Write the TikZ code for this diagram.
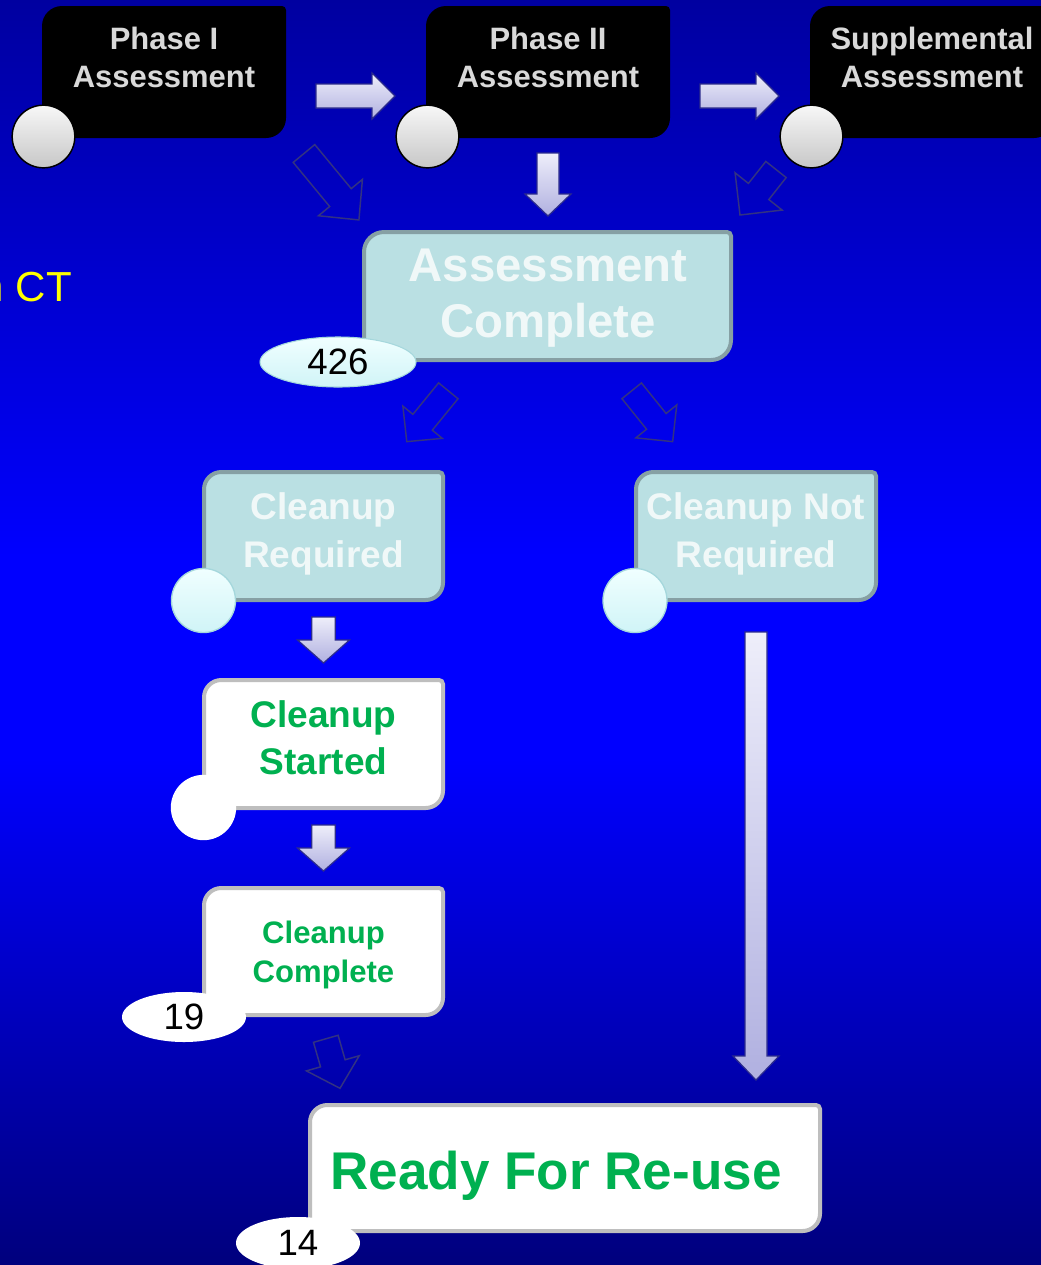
\documentclass[tikz,border=0pt]{standalone}
\usepackage{fontspec}
\setmainfont{Liberation Sans}
\usetikzlibrary{shapes.geometric,calc,fit}

\definecolor{bgtop}{RGB}{0,0,160}
\definecolor{bgmid}{RGB}{0,0,255}
\definecolor{bgbot}{RGB}{0,0,125}
\definecolor{phasegray}{RGB}{217,217,217}
\definecolor{tealfill}{RGB}{186,224,227}
\definecolor{tealedge}{RGB}{134,160,164}
\definecolor{tealtext}{RGB}{240,248,248}
\definecolor{stagegreen}{RGB}{0,176,80}
\definecolor{grayedge}{RGB}{190,190,190}
\definecolor{arrtop}{RGB}{238,238,250}
\definecolor{arrbot}{RGB}{176,176,224}
\definecolor{arredge}{RGB}{44,44,140}
\definecolor{holedge}{RGB}{50,50,130}
\definecolor{cyantop}{RGB}{240,255,255}
\definecolor{cyanbot}{RGB}{208,244,247}
\definecolor{cyanedge}{RGB}{165,215,220}
\definecolor{ctyellow}{RGB}{255,255,0}

\pgfdeclareverticalshading{bgshade}{100bp}{color(0bp)=(bgbot); color(25bp)=(bgbot); color(45bp)=(bgmid); color(53bp)=(bgmid); color(75bp)=(bgtop); color(100bp)=(bgtop)}

\newcommand\stagebox[5]{%
  \node[fit={#3 #4}, inner sep=0pt, outer sep=0pt] (#1) {};
  \path[#2] (#1.south west) -- ([yshift=-#5]#1.north west)
    arc[start angle=180,end angle=90,radius=#5] -- ([xshift=-3pt]#1.north east)
    arc[start angle=90,end angle=0,radius=3pt] -- ([yshift=#5]#1.south east)
    arc[start angle=0,end angle=-90,radius=#5] -- cycle;
}

\newcommand\blockarrow[6]{%
  \path[#1] let \p1=($(#3)-(#2)$), \n1={atan2(\y1,\x1)}, \n2={veclen(\x1,\y1)} in
    [shift={(#2)}, rotate=\n1] (0pt,-#4) -- (\n2-#6,-#4) -- (\n2-#6,-#5) -- (\n2,0pt)
    -- (\n2-#6,#5) -- (\n2-#6,#4) -- (0pt,#4) -- cycle;
}

\tikzset{
  phasebox/.style={fill=black},
  tealbox/.style={fill=tealfill, draw=tealedge, line width=3pt},
  whitebox/.style={fill=white, draw=grayedge, line width=3pt},
  phasetxt/.style={font=\bfseries\fontsize{23.2}{28.5}\selectfont, text=phasegray, align=center, inner sep=0pt},
  bigtxt/.style={font=\bfseries\fontsize{35.5}{42}\selectfont, text=tealtext, align=center, inner sep=0pt},
  midtxt/.style={font=\bfseries\fontsize{27.8}{36}\selectfont, align=center, inner sep=0pt},
  starttxt/.style={font=\bfseries\fontsize{27.8}{35}\selectfont, text=stagegreen, align=center, inner sep=0pt},
  smalltxt/.style={font=\bfseries\fontsize{23.3}{29}\selectfont, text=stagegreen, align=center, inner sep=0pt},
  readytxt/.style={font=\bfseries\fontsize{39.8}{44}\selectfont, text=stagegreen, inner sep=0pt},
  cttxt/.style={font=\fontsize{31.5}{36}\selectfont, text=ctyellow, inner sep=0pt},
  numfont/.style={font=\fontsize{27.5}{30}\selectfont, text=black},
  graydot/.style={circle, minimum size=47pt, inner sep=0pt, draw=black, line width=1.1pt, top color=white!97!black, bottom color=white!78!black},
  cyandot/.style={circle, minimum size=48pt, inner sep=0pt, draw=cyanedge, line width=1pt, top color=cyantop, bottom color=cyanbot},
  whitedot/.style={circle, minimum size=49pt, inner sep=0pt, fill=white},
  cyanoval/.style={ellipse, inner sep=0pt, draw=cyanedge, line width=0.8pt, top color=cyantop, bottom color=cyanbot, numfont},
  whiteoval/.style={ellipse, inner sep=0pt, fill=white, numfont},
  solidarr/.style={draw=arredge, line width=0.9pt, top color=arrtop, bottom color=arrbot},
  hollowarr/.style={draw=holedge, line width=1.1pt},
}

\begin{document}
\begin{tikzpicture}[x=0.75pt, y=0.75pt]
\useasboundingbox (0,0) rectangle (1041,-1265);
\shade[shading=bgshade] (0,0) rectangle (1041,-1265);

% yellow partial text
\node[cttxt, anchor=base east] (ct) at (72,-301) {n CT};

% phase boxes
\stagebox{b1}{phasebox}{(42,-6)}{(286,-138)}{15pt}
\stagebox{b2}{phasebox}{(426,-6)}{(670,-138)}{15pt}
\stagebox{b3}{phasebox}{(810,-6)}{(1054,-138)}{15pt}
\node[phasetxt] (p1t) at (164,-57) {Phase I\\Assessment};
\node[phasetxt] (p2t) at (548,-57) {Phase II\\Assessment};
\node[phasetxt] (p3t) at (932,-57) {Supplemental\\Assessment};
\node[graydot] (c1) at (43.5,-136.5) {};
\node[graydot] (c2) at (427.5,-136.5) {};
\node[graydot] (c3) at (811.5,-136.5) {};

% assessment complete
\stagebox{ac}{tealbox}{(364,-232)}{(731,-360)}{15pt}
\node[bigtxt] (act) at (548,-298) {Assessment\\Complete};
\node[cyanoval, minimum width=117pt, minimum height=37.5pt] (n426) at (338,-362) {426};

% cleanup required / not required
\stagebox{cr}{tealbox}{(204,-472)}{(443,-600)}{13pt}
\stagebox{cn}{tealbox}{(636,-472)}{(876,-600)}{13pt}
\node[midtxt, text=tealtext] (crt) at (323.5,-534) {Cleanup\\Required};
\node[midtxt, text=tealtext] (cnt) at (756,-534) {Cleanup Not\\Required};
\node[cyandot] (d1) at (203.5,-600.5) {};
\node[cyandot] (d2) at (635,-600.5) {};

% cleanup started
\stagebox{cs}{whitebox}{(204,-680)}{(443,-808)}{13pt}
\node[starttxt] (cst) at (323.5,-737.5) {Cleanup\\Started};
\node[whitedot] (d3) at (203.5,-807.5) {};

% cleanup complete
\stagebox{cc}{whitebox}{(204,-888)}{(443,-1015)}{13pt}
\node[smalltxt] (cct) at (323.5,-955) {Cleanup\\Complete};
\node[whiteoval, minimum width=93pt, minimum height=37.5pt] (n19) at (184,-1017) {19};

% ready for re-use
\stagebox{rd}{whitebox}{(310,-1105)}{(820,-1231)}{13pt}
\node[readytxt] (rdt) at (556,-1176) {Ready For Re-use};
\node[whiteoval, minimum width=93pt, minimum height=39pt] (n14) at (298,-1243) {14};

% arrow end points
\coordinate (r1s) at (316,-96);   \coordinate (r1e) at (395,-96);
\coordinate (r2s) at (700,-96);   \coordinate (r2e) at (779,-96);
\coordinate (d0s) at (548,-153);  \coordinate (d0e) at (548,-216);
\coordinate (hAs) at (304,-153.5); \coordinate (hAe) at (359,-220);
\coordinate (hBs) at (776,-169.5); \coordinate (hBe) at (740,-215);
\coordinate (hCs) at (448.3,-390.8); \coordinate (hCe) at (406.7,-441.7);
\coordinate (hDs) at (631.7,-390.8); \coordinate (hDe) at (672.7,-441.7);
\coordinate (d1s) at (323.5,-617); \coordinate (d1e) at (323.5,-663);
\coordinate (d2s) at (323.5,-825); \coordinate (d2e) at (323.5,-871);
\coordinate (hEs) at (325.8,-1038.8); \coordinate (hEe) at (340,-1088.3);
\coordinate (lgs) at (756,-632);  \coordinate (lge) at (756,-1080);

% solid arrows
\blockarrow{solidarr}{r1s}{r1e}{9pt}{17.25pt}{17.25pt}
\blockarrow{solidarr}{r2s}{r2e}{9pt}{17.25pt}{17.25pt}
\blockarrow{solidarr}{d0s}{d0e}{8.25pt}{17.25pt}{16.5pt}
\blockarrow{solidarr}{d1s}{d1e}{8.75pt}{19.5pt}{17.25pt}
\blockarrow{solidarr}{d2s}{d2e}{8.75pt}{19.5pt}{17.25pt}
\blockarrow{solidarr}{lgs}{lge}{8.25pt}{17.25pt}{18pt}

% hollow arrows
\blockarrow{hollowarr}{hAs}{hAe}{10.5pt}{21.4pt}{21.75pt}
\blockarrow{hollowarr}{hBs}{hBe}{9.75pt}{22.5pt}{22.5pt}
\blockarrow{hollowarr}{hCs}{hCe}{9.4pt}{19.1pt}{18.75pt}
\blockarrow{hollowarr}{hDs}{hDe}{9.4pt}{19.7pt}{19.5pt}
\blockarrow{hollowarr}{hEs}{hEe}{9.6pt}{20.6pt}{19.5pt}
\end{tikzpicture}
\end{document}
